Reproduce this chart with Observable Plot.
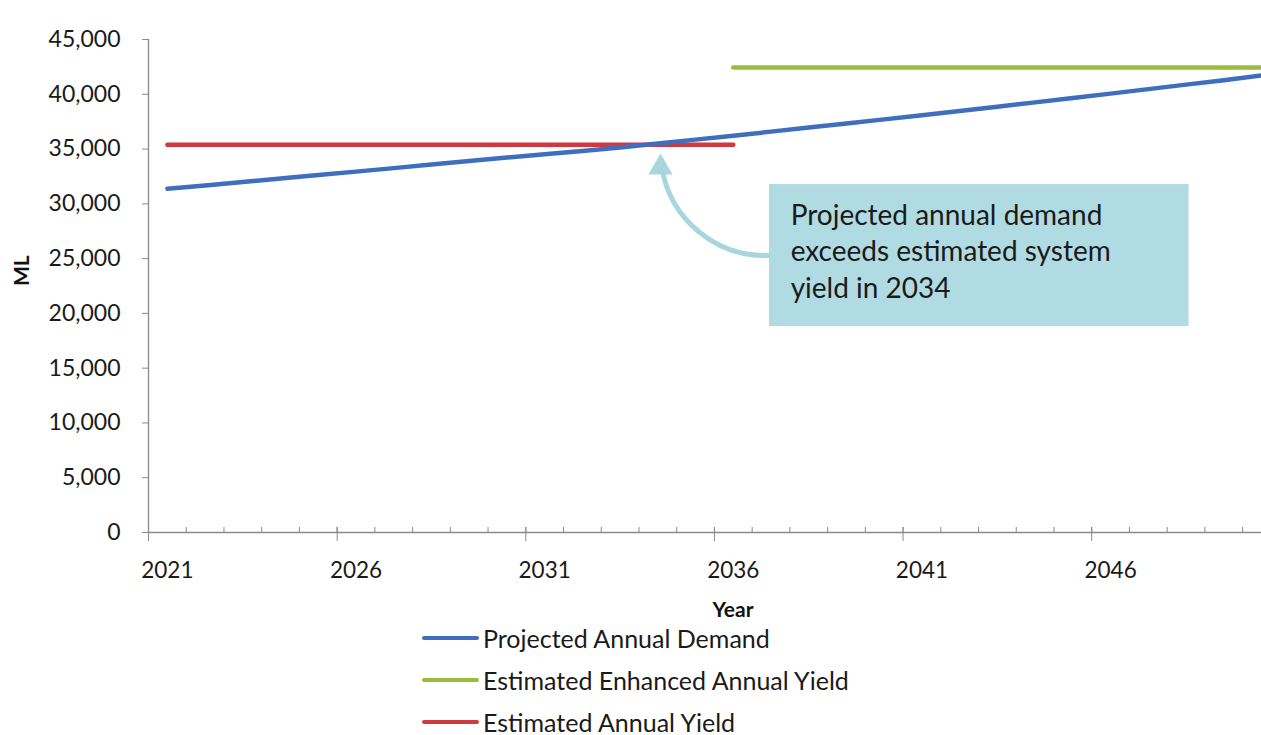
<!DOCTYPE html>
<html>
<head>
<meta charset="utf-8">
<script src="https://cdn.jsdelivr.net/npm/d3@7"></script>
<script src="https://cdn.jsdelivr.net/npm/@observablehq/plot@0.6"></script>
<style>
  html, body { margin: 0; padding: 0; background: #fff; }
  body { width: 1261px; height: 735px; overflow: hidden; font-family: Lato, "Open Sans", sans-serif; }
  #legend { margin-left: 422px; }
  .row { display: flex; align-items: center; height: 42px; }
  .sw { width: 57px; height: 4px; border-radius: 2px; }
  .lab { margin-left: 4px; font-size: 25px; color: #1a1a1a; white-space: nowrap; }
</style>
</head>
<body>
<div id="chart"></div>
<div id="legend"></div>
<script>
// ---- data ----
const demandYears = [2021,2022,2023,2024,2025,2026,2027,2028,2029,2030,2031,2032,2033,2034,2035,2036,2037,2038,2039,2040,2041,2042,2043,2044,2045,2046,2047,2048,2049,2050];
const demandValues = [31370,31680,32000,32310,32630,32940,33260,33580,33900,34220,34520,34830,35150,35500,35860,36220,36590,36960,37330,37710,38090,38480,38870,39260,39660,40060,40470,40880,41290,41710];
const enhancedYears = [2036,2037,2038,2039,2040,2041,2042,2043,2044,2045,2046,2047,2048,2049,2050];
const enhancedValues = [42450,42450,42450,42450,42450,42450,42450,42450,42450,42450,42450,42450,42450,42450,42450];
const yieldYears = [2021,2022,2023,2024,2025,2026,2027,2028,2029,2030,2031,2032,2033,2034,2035,2036];
const yieldValues = [35400,35400,35400,35400,35400,35400,35400,35400,35400,35400,35400,35400,35400,35400,35400,35400];

const seriesNames = ["Projected Annual Demand", "Estimated Enhanced Annual Yield", "Estimated Annual Yield"];
const seriesColors = ["#3f6ebf", "#9bbb3a", "#d0393f"];

const xDomain = [2020.5, 2050];           // category axis (Excel style, cropped at right)
const yTicks = [0,5000,10000,15000,20000,25000,30000,35000,40000,45000];
const xLabelYears = [2021, 2026, 2031, 2036, 2041, 2046];
const minorTickBounds = [2020.5,2021.5,2022.5,2023.5,2024.5,2025.5,2026.5,2027.5,2028.5,2029.5,2030.5,2031.5,2032.5,2033.5,2034.5,2035.5,2036.5,2037.5,2038.5,2039.5,2040.5,2041.5,2042.5,2043.5,2044.5,2045.5,2046.5,2047.5,2048.5,2049.5];
const majorTickBounds = [2020.5, 2025.5, 2030.5, 2035.5, 2040.5, 2045.5];

// annotation (data coordinates)
const noteLines = ["Projected annual demand", "exceeds estimated system", "yield in 2034"];
const noteBox = [{x1: 2036.96, x2: 2048.08, y1: 18800, y2: 31760}];
const noteTextPos = [{x: 2037.52, y: 25830}];
const noteArrow = [{x1: 2036.93, y1: 25280, x2: 2034.07, y2: 34600}];

// ---- build ----
const table = (years, values) => years.map((y, i) => ({year: y, value: values[i]}));
const demand = table(demandYears, demandValues);
const enhanced = table(enhancedYears, enhancedValues);
const yld = table(yieldYears, yieldValues);

const W = 1261, H = 617, mT = 39, mB = 85, mL = 148, mR = 0;
const innerH = H - mT - mB;
const axisColor = "#8a8a8a";
const arrowColor = "#a9d6dd";

const chart = Plot.plot({
  width: W, height: H,
  marginTop: mT, marginBottom: mB, marginLeft: mL, marginRight: mR,
  style: {fontFamily: "Lato, 'Open Sans', sans-serif", fontSize: "23px", color: "#1a1a1a", background: "#fff", overflow: "visible"},
  x: {domain: xDomain, axis: null},
  y: {domain: [0, 45000], axis: null},
  marks: [
    // annotation box
    Plot.rect(noteBox, {x1: "x1", x2: "x2", y1: "y1", y2: "y2", fill: "#b1dbe2"}),
    Plot.text(noteTextPos, {x: "x", y: "y", text: () => noteLines.join("\n"), textAnchor: "start", lineAnchor: "middle", lineHeight: 1.3, fontSize: 28, fill: "#1a1a1a"}),
    // axes lines
    Plot.ruleX([xDomain[0]], {stroke: axisColor, strokeWidth: 1.3}),
    Plot.ruleY([0], {stroke: axisColor, strokeWidth: 1.3}),
    // x ticks: minor inside, major crossing
    Plot.ruleX(minorTickBounds, {stroke: axisColor, insetTop: innerH - 5}),
    Plot.ruleX(majorTickBounds, {stroke: axisColor, insetTop: innerH - 5, insetBottom: -9}),
    Plot.axisX({ticks: xLabelYears, tickSize: 0, tickPadding: 30, tickFormat: d => String(d), fontSize: 22.5, fill: "#1a1a1a"}),
    Plot.axisY({ticks: yTicks, tickSize: 6, tickPadding: 22, tickFormat: d3.format(","), stroke: axisColor, fontSize: 23, fill: "#1a1a1a"}),
    // axis titles
    Plot.text(["ML"], {text: d => d, frameAnchor: "left", dx: -126, rotate: -90, fontWeight: "bold", fontSize: 21, fill: "#111"}),
    Plot.text(["Year"], {text: d => d, frameAnchor: "bottom", lineAnchor: "middle", dx: 28, dy: 78, fontWeight: "bold", fontSize: 21, fill: "#111"}),
    // series
    Plot.line(yld, {x: "year", y: "value", stroke: seriesColors[2], strokeWidth: 4.5, strokeLinecap: "round"}),
    Plot.line(enhanced, {x: "year", y: "value", stroke: seriesColors[1], strokeWidth: 4.5, strokeLinecap: "round"}),
    Plot.line(demand, {x: "year", y: "value", stroke: seriesColors[0], strokeWidth: 4.5, strokeLinecap: "round"}),
    // arrow: curved shaft + filled triangular head
    Plot.arrow(noteArrow, {x1: "x1", y1: "y1", x2: "x2", y2: "y2", bend: 45, stroke: arrowColor, strokeWidth: 5, headLength: 0, insetEnd: 14}),
    Plot.dot(noteArrow, {x: "x2", y: "y2", symbol: "triangle", r: 9, dy: 14, fill: arrowColor, stroke: "none"})
  ]
});
document.getElementById("chart").appendChild(chart);

const legend = document.getElementById("legend");
seriesNames.forEach((n, i) => {
  const row = document.createElement("div");
  row.className = "row";
  const sw = document.createElement("div");
  sw.className = "sw";
  sw.style.background = seriesColors[i];
  const lab = document.createElement("div");
  lab.className = "lab";
  lab.textContent = n;
  row.appendChild(sw); row.appendChild(lab);
  legend.appendChild(row);
});
</script>
</body>
</html>
